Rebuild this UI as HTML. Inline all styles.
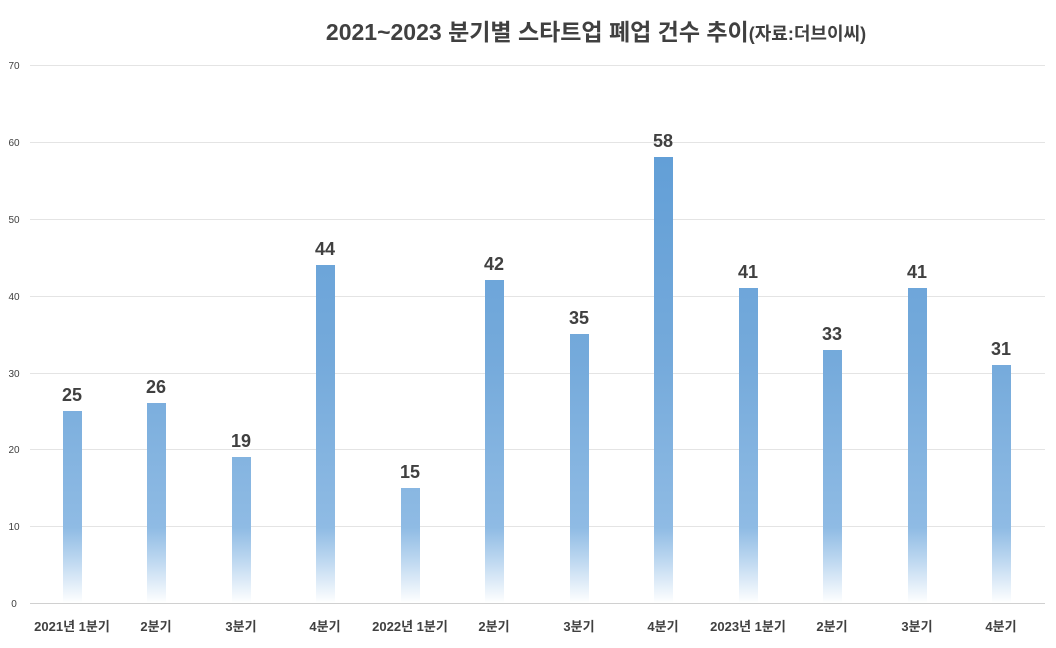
<!DOCTYPE html>
<html><head><meta charset="utf-8"><style>
body{margin:0;background:#fff;}
svg text{font-family:"Liberation Sans","Noto Sans CJK KR",sans-serif;}
</style></head><body>
<svg width="1056" height="643" viewBox="0 0 1056 643" xmlns="http://www.w3.org/2000/svg">
<defs>
<linearGradient id="g" gradientUnits="userSpaceOnUse" x1="0" y1="65" x2="0" y2="603">
<stop offset="0" stop-color="#5a9ad5"/>
<stop offset="0.55" stop-color="#75aadb"/>
<stop offset="0.86" stop-color="#8fbbe4"/>
<stop offset="0.92" stop-color="#bcd7f0"/>
<stop offset="1" stop-color="#ffffff"/>
</linearGradient>
</defs>
<rect width="1056" height="643" fill="#fff"/>
<text x="596" y="40" text-anchor="middle" font-size="23" font-weight="bold" fill="#404040">2021~2023 분기별 스타트업 폐업 건수 추이<tspan font-size="18">(자료:더브이씨)</tspan></text>
<g stroke="#e4e4e4" stroke-width="1">
<line x1="30" y1="65.5" x2="1045" y2="65.5"/>
<line x1="30" y1="142.5" x2="1045" y2="142.5"/>
<line x1="30" y1="219.5" x2="1045" y2="219.5"/>
<line x1="30" y1="296.5" x2="1045" y2="296.5"/>
<line x1="30" y1="373.5" x2="1045" y2="373.5"/>
<line x1="30" y1="449.5" x2="1045" y2="449.5"/>
<line x1="30" y1="526.5" x2="1045" y2="526.5"/>
</g>
<line x1="30" y1="603.5" x2="1045" y2="603.5" stroke="#d0d0d0"/>
<g font-size="10" fill="#404040" text-anchor="middle">
<text x="14" y="69">70</text><text x="14" y="146">60</text><text x="14" y="223">50</text>
<text x="14" y="300">40</text><text x="14" y="377">30</text><text x="14" y="453">20</text>
<text x="14" y="530">10</text><text x="14" y="607">0</text>
</g>
<g fill="url(#g)">
<rect x="63" y="411" width="19" height="192"/>
<rect x="147" y="403" width="19" height="200"/>
<rect x="232" y="457" width="19" height="146"/>
<rect x="316" y="265" width="19" height="338"/>
<rect x="401" y="488" width="19" height="115"/>
<rect x="485" y="280" width="19" height="323"/>
<rect x="570" y="334" width="19" height="269"/>
<rect x="654" y="157" width="19" height="446"/>
<rect x="739" y="288" width="19" height="315"/>
<rect x="823" y="350" width="19" height="253"/>
<rect x="908" y="288" width="19" height="315"/>
<rect x="992" y="365" width="19" height="238"/>
</g>
<g font-size="18" font-weight="bold" fill="#404040" text-anchor="middle">
<text x="72" y="401">25</text><text x="156" y="393">26</text><text x="241" y="447">19</text>
<text x="325" y="255">44</text><text x="410" y="478">15</text><text x="494" y="270">42</text>
<text x="579" y="324">35</text><text x="663" y="147">58</text><text x="748" y="278">41</text>
<text x="832" y="340">33</text><text x="917" y="278">41</text><text x="1001" y="355">31</text>
</g>
<g font-size="13" font-weight="bold" fill="#404040" text-anchor="middle">
<text x="72" y="631">2021년 1분기</text><text x="156" y="631">2분기</text><text x="241" y="631">3분기</text>
<text x="325" y="631">4분기</text><text x="410" y="631">2022년 1분기</text><text x="494" y="631">2분기</text>
<text x="579" y="631">3분기</text><text x="663" y="631">4분기</text><text x="748" y="631">2023년 1분기</text>
<text x="832" y="631">2분기</text><text x="917" y="631">3분기</text><text x="1001" y="631">4분기</text>
</g>
</svg>
</body></html>
